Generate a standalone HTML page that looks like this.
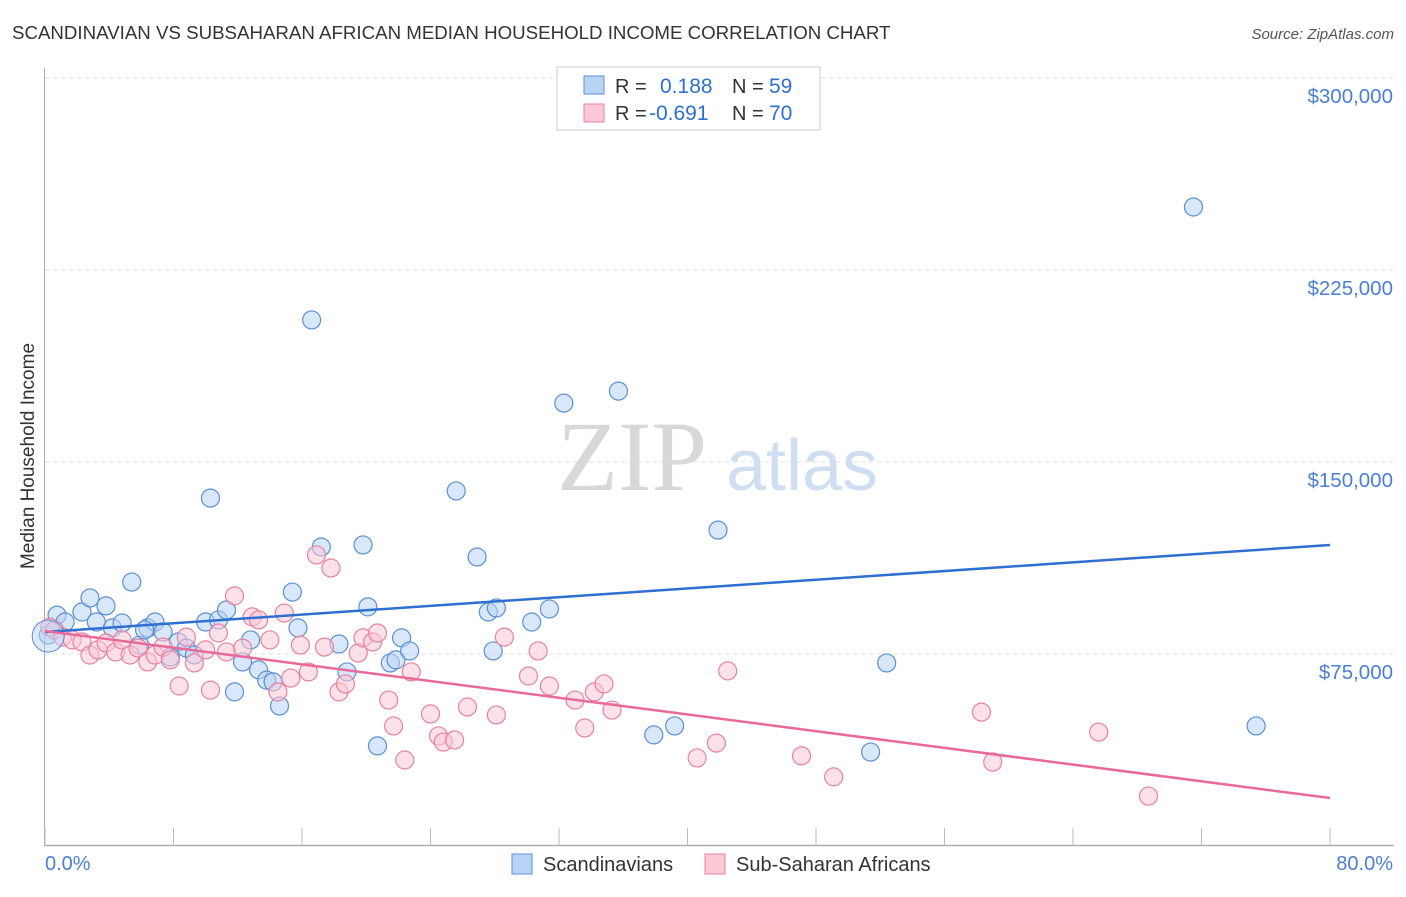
<!DOCTYPE html>
<html><head><meta charset="utf-8"><style>
body{margin:0;background:#fff;font-family:"Liberation Sans",sans-serif}
</style></head><body>
<svg width="1406" height="892" xmlns="http://www.w3.org/2000/svg" font-family="Liberation Sans, sans-serif">
<text x="12" y="39" font-size="18.7" fill="#333">SCANDINAVIAN VS SUBSAHARAN AFRICAN MEDIAN HOUSEHOLD INCOME CORRELATION CHART</text>
<text x="1394" y="39" font-size="15" fill="#555" text-anchor="end" font-style="italic">Source: ZipAtlas.com</text>
<text x="632" y="490" font-size="100" fill="#d8d8d8" font-family="Liberation Serif, serif" text-anchor="middle">ZIP</text>
<text x="802" y="490" font-size="72" fill="#d0def2" text-anchor="middle">atlas</text>
<g id="grid"></g>
<g id="axes"></g>
<g id="pts"></g>
<g id="trend"></g>
<text transform="translate(34,456) rotate(-90)" font-size="19" fill="#333" text-anchor="middle">Median Household Income</text>
<g>
<rect x="557" y="67" width="263" height="63" fill="#fff" stroke="#ccc"/>
<rect x="584" y="76" width="20" height="18" fill="#b8d4f5" stroke="#5b8fd6"/>
<rect x="584" y="104" width="20" height="18" fill="#fbc8d6" stroke="#e8829f"/>
<text x="615" y="93" font-size="20" fill="#333">R =</text>
<text x="660" y="93" font-size="21" fill="#2e6fd0">0.188</text>
<text x="732" y="93" font-size="20" fill="#333">N =</text>
<text x="769" y="93" font-size="21" fill="#2e6fd0">59</text>
<text x="615" y="120" font-size="20" fill="#333">R =</text>
<text x="649" y="120" font-size="21" fill="#2e6fd0">-0.691</text>
<text x="732" y="120" font-size="20" fill="#333">N =</text>
<text x="769" y="120" font-size="21" fill="#2e6fd0">70</text>
</g>
<g>
<rect x="512" y="854" width="20" height="20" fill="#b8d4f5" stroke="#5b8fd6"/>
<text x="543" y="871" font-size="20" fill="#333">Scandinavians</text>
<rect x="705" y="854" width="20" height="20" fill="#fbc8d6" stroke="#e8829f"/>
<text x="736" y="871" font-size="20" fill="#333">Sub-Saharan Africans</text>
</g>
<text x="45" y="870" font-size="20" fill="#4a7fd4">0.0%</text>
<text x="1393" y="870" font-size="20" fill="#4a7fd4" text-anchor="end">80.0%</text>
</svg>
<script>
const yTicks=[75000,150000,225000,300000];
const yTickLabels=["$75,000","$150,000","$225,000","$300,000"];
const blueX=[0.75,0.2,1.25,2.3,2.8,3.2,3.8,4.2,4.8,5.4,5.9,6.4,6.85,7.35,7.8,8.3,8.8,9.3,10.0,10.3,10.8,11.3,11.8,12.3,12.8,13.3,13.8,14.2,14.6,15.4,15.75,16.6,17.2,18.3,18.8,19.8,20.1,20.7,21.5,21.85,22.2,22.7,25.6,26.9,27.6,27.9,28.1,30.3,31.4,32.3,35.7,37.9,39.2,41.9,51.4,52.4,71.5,75.4,6.2];
const blueY=[90.2,82.4,87.5,91.4,96.9,87.5,93.8,85.2,87.1,103.1,78.5,85.2,87.5,83.6,73.8,79.7,77.3,74.6,87.5,135.9,88.3,92.2,60.2,71.9,80.5,68.8,64.8,64.1,54.7,99.2,85.2,205.5,116.8,78.9,68.0,117.6,93.4,39.1,71.5,72.7,81.3,76.2,138.7,112.9,91.4,76.2,93.0,87.5,92.6,173.0,177.7,43.4,46.9,123.4,36.7,71.5,249.6,46.9,84.4];
const pinkX=[0.3,0.6,1.1,1.7,2.3,2.8,3.3,3.8,4.4,4.8,5.3,5.8,6.4,6.85,7.35,7.8,8.35,8.8,9.3,10.0,10.3,10.8,11.3,11.8,12.3,12.9,13.3,14.0,14.5,14.9,15.3,15.9,16.4,16.9,17.4,17.8,18.3,18.7,19.5,19.8,20.4,20.7,21.4,21.7,22.4,22.8,24.0,24.5,24.8,25.5,26.3,28.1,28.6,30.1,30.7,31.4,33.0,33.6,34.2,34.8,35.3,40.6,41.8,42.5,47.1,49.1,58.3,59.0,65.6,68.7];
const pinkY=[85.5,84.4,81.6,80.5,79.7,74.6,76.6,79.3,75.8,80.5,74.6,77.3,71.9,74.6,77.7,72.7,62.5,81.6,71.5,76.6,60.9,83.2,75.8,97.7,77.3,89.5,88.3,80.5,60.2,91.0,65.6,78.5,68.0,113.7,77.7,108.6,60.2,63.3,75.4,81.3,79.7,83.2,57.0,46.9,33.6,68.0,51.6,43.0,40.6,41.4,54.3,51.2,81.6,66.4,76.2,62.5,57.0,46.1,60.2,63.3,53.1,34.4,40.2,68.4,35.2,27.0,52.3,32.8,44.5,19.5];
const blueTrend=[[0,83.6],[80,117.6]];
const pinkTrend=[[0,84.0],[80,18.75]];
const NS="http://www.w3.org/2000/svg";
const X=v=>45+v/80*1285;
const Y=k=>846-k*1000/75000*192;
function mk(t,a,p){const e=document.createElementNS(NS,t);for(const k in a)e.setAttribute(k,a[k]);document.getElementById(p).appendChild(e);return e;}
yTicks.forEach((t,i)=>{
  const l=mk('line',{x1:45,x2:1394,y1:Y(t/1000),y2:Y(t/1000),stroke:'#ddd','stroke-dasharray':'4,4'},'grid');
  
  
  const tx=mk('text',{x:1393,y:Y(t/1000)+25,'font-size':20.5,fill:'#4a7fd4','text-anchor':'end'},'grid');
  tx.textContent=yTickLabels[i];
  
  
});
const ya=mk('line',{x1:44.5,x2:44.5,y1:68,y2:846,stroke:'#aaa'},'axes');


const xa=mk('line',{x1:45,x2:1394,y1:845.5,y2:845.5,stroke:'#aaa','stroke-width':1.5},'axes');


for(let i=0;i<=10;i++){const t=mk('line',{x1:X(i*8),x2:X(i*8),y1:828,y2:846,stroke:'#bbb'},'axes');
  
  }
function pts(xs,ys,fill,stroke,name){xs.forEach((x,i)=>{
  const c=mk('circle',{cx:X(x),cy:Y(ys[i]),r:9,fill:fill,'fill-opacity':0.55,stroke:stroke,'stroke-width':1.2},'pts');
  
  
});}
pts(blueX,blueY,'#b8d4f5','#5b8fd6','scandinavian-point');
pts(pinkX,pinkY,'#fbc8d6','#e8829f','subsaharan-point');
const big=mk('circle',{cx:X(0.2),cy:Y(82),r:16,fill:'#b8d4f5','fill-opacity':0.5,stroke:'#5b8fd6'},'pts');


const bt=mk('line',{x1:X(blueTrend[0][0]),y1:Y(blueTrend[0][1]),x2:X(blueTrend[1][0]),y2:Y(blueTrend[1][1]),stroke:'#2e6fd0','stroke-width':2.5},'trend');


const pt=mk('line',{x1:X(pinkTrend[0][0]),y1:Y(pinkTrend[0][1]),x2:X(pinkTrend[1][0]),y2:Y(pinkTrend[1][1]),stroke:'#e8699a','stroke-width':2.5},'trend');


</script>
</body></html>
